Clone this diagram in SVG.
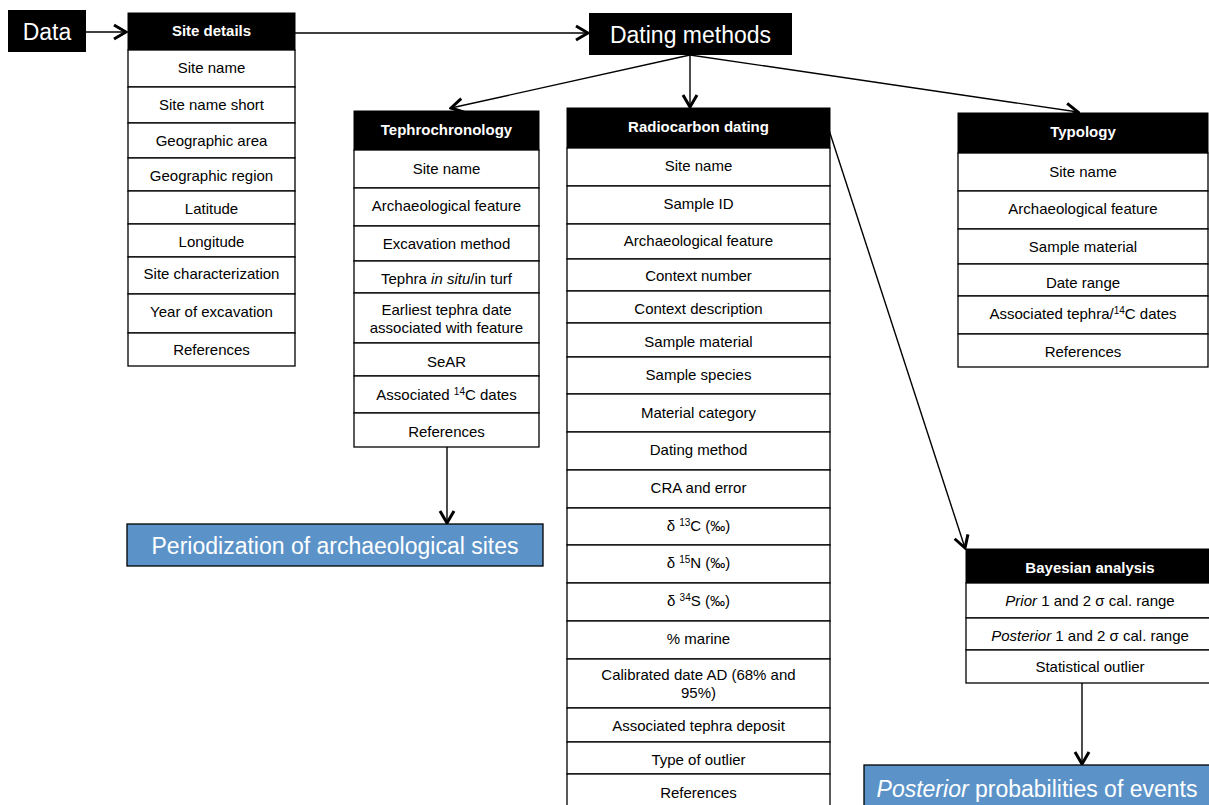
<svg xmlns="http://www.w3.org/2000/svg" width="1209" height="805" viewBox="0 0 1209 805">
<defs>
<marker id="arr" markerUnits="userSpaceOnUse" viewBox="0 0 16 18" refX="14" refY="9" markerWidth="16" markerHeight="18" orient="auto">
<path d="M2,2 L14,9 L2,16" fill="none" stroke="#000" stroke-width="3" stroke-linejoin="miter"/>
</marker>
<style>
.hd{fill:#000;stroke:#000;stroke-width:1}
.cell{fill:#fff;stroke:#000;stroke-width:1.3}
.ht{font-family:"Liberation Sans",Arial,sans-serif;font-size:15px;font-weight:bold;fill:#fff;text-anchor:middle}
.t{font-family:"Liberation Sans",Arial,sans-serif;font-size:15px;fill:#000;text-anchor:middle}
.big{font-family:"Liberation Sans",Arial,sans-serif;font-size:23px;fill:#fff;text-anchor:middle}
.blue{fill:#5b93c9;stroke:#000;stroke-width:1.3}
.sup{font-size:10px}
.con{stroke:#000;stroke-width:1.4;fill:none;marker-end:url(#arr)}
</style>
</defs>
<rect width="1209" height="805" fill="#fff"/>

<g id="connectors">
<line class="con" x1="86" y1="32" x2="126" y2="32"/>
<line class="con" x1="295" y1="33" x2="588" y2="33"/>
<line class="con" x1="690" y1="55" x2="451" y2="108"/>
<line class="con" x1="690" y1="55" x2="690" y2="107"/>
<line class="con" x1="690" y1="55" x2="1078" y2="112"/>
<line class="con" x1="828" y1="127" x2="965" y2="548"/>
<line class="con" x1="447" y1="447" x2="447" y2="523"/>
<line class="con" x1="1082" y1="683" x2="1082" y2="764"/>
</g>

<g id="data">
<rect x="8" y="10" width="78" height="42" fill="#000"/>
<text class="big" x="47" y="39.5">Data</text>
</g>

<g id="site-details">
<rect class="hd" x="128" y="13" width="167" height="37"/>
<text class="ht" x="211.5" y="36">Site details</text>
<rect class="cell" x="128" y="50" width="167" height="37"/>
<rect class="cell" x="128" y="87" width="167" height="36"/>
<rect class="cell" x="128" y="123" width="167" height="35"/>
<rect class="cell" x="128" y="158" width="167" height="33"/>
<rect class="cell" x="128" y="191" width="167" height="33"/>
<rect class="cell" x="128" y="224" width="167" height="33"/>
<rect class="cell" x="128" y="257" width="167" height="37"/>
<rect class="cell" x="128" y="294" width="167" height="39"/>
<rect class="cell" x="128" y="333" width="167" height="33"/>
<text class="t" x="211.5" y="72.5">Site name</text>
<text class="t" x="211.5" y="109.5">Site name short</text>
<text class="t" x="211.5" y="145.5">Geographic area</text>
<text class="t" x="211.5" y="180.5">Geographic region</text>
<text class="t" x="211.5" y="213.5">Latitude</text>
<text class="t" x="211.5" y="246.5">Longitude</text>
<text class="t" x="211.5" y="278.5">Site characterization</text>
<text class="t" x="211.5" y="316.5">Year of excavation</text>
<text class="t" x="211.5" y="354.5">References</text>
</g>

<g id="dating-methods">
<rect x="589" y="13" width="203" height="42" fill="#000"/>
<text class="big" x="690.5" y="42.5">Dating methods</text>
</g>

<g id="tephrochronology">
<rect class="hd" x="354" y="111" width="185" height="39"/>
<text class="ht" x="446.5" y="134.5">Tephrochronology</text>
<rect class="cell" x="354" y="150" width="185" height="38"/>
<rect class="cell" x="354" y="188" width="185" height="38"/>
<rect class="cell" x="354" y="226" width="185" height="35"/>
<rect class="cell" x="354" y="261" width="185" height="32"/>
<rect class="cell" x="354" y="293" width="185" height="50"/>
<rect class="cell" x="354" y="343" width="185" height="33"/>
<rect class="cell" x="354" y="376" width="185" height="37"/>
<rect class="cell" x="354" y="413" width="185" height="34"/>
<text class="t" x="446.5" y="173.5">Site name</text>
<text class="t" x="446.5" y="210.5">Archaeological feature</text>
<text class="t" x="446.5" y="248.5">Excavation method</text>
<text class="t" x="446.5" y="283.5">Tephra <tspan font-style="italic">in situ</tspan>/in turf</text>
<text class="t" x="446.5" y="315">Earliest tephra date</text>
<text class="t" x="446.5" y="332.5">associated with feature</text>
<text class="t" x="446.5" y="366.5">SeAR</text>
<text class="t" x="446.5" y="399.5">Associated <tspan class="sup" dy="-5">14</tspan><tspan dy="5">C dates</tspan></text>
<text class="t" x="446.5" y="436.5">References</text>
</g>

<g id="periodization">
<rect class="blue" x="127" y="524" width="416" height="42"/>
<text class="big" x="335" y="553.5">Periodization of archaeological sites</text>
</g>

<g id="radiocarbon">
<rect class="hd" x="567" y="108" width="263" height="40"/>
<text class="ht" x="698.5" y="131.5">Radiocarbon dating</text>
<rect class="cell" x="567" y="148" width="263" height="38"/>
<rect class="cell" x="567" y="186" width="263" height="38"/>
<rect class="cell" x="567" y="224" width="263" height="35"/>
<rect class="cell" x="567" y="259" width="263" height="32"/>
<rect class="cell" x="567" y="291" width="263" height="32"/>
<rect class="cell" x="567" y="323" width="263" height="34"/>
<rect class="cell" x="567" y="357" width="263" height="37"/>
<rect class="cell" x="567" y="394" width="263" height="38"/>
<rect class="cell" x="567" y="432" width="263" height="38"/>
<rect class="cell" x="567" y="470" width="263" height="38"/>
<rect class="cell" x="567" y="508" width="263" height="37"/>
<rect class="cell" x="567" y="545" width="263" height="38"/>
<rect class="cell" x="567" y="583" width="263" height="38"/>
<rect class="cell" x="567" y="621" width="263" height="38"/>
<rect class="cell" x="567" y="659" width="263" height="49"/>
<rect class="cell" x="567" y="708" width="263" height="34"/>
<rect class="cell" x="567" y="742" width="263" height="32"/>
<rect class="cell" x="567" y="774" width="263" height="40"/>
<text class="t" x="698.5" y="170.5">Site name</text>
<text class="t" x="698.5" y="208.5">Sample ID</text>
<text class="t" x="698.5" y="245.5">Archaeological feature</text>
<text class="t" x="698.5" y="280.5">Context number</text>
<text class="t" x="698.5" y="313.5">Context description</text>
<text class="t" x="698.5" y="346.5">Sample material</text>
<text class="t" x="698.5" y="379.5">Sample species</text>
<text class="t" x="698.5" y="417.5">Material category</text>
<text class="t" x="698.5" y="454.5">Dating method</text>
<text class="t" x="698.5" y="492.5">CRA and error</text>
<text class="t" x="698.5" y="530.5">δ <tspan class="sup" dy="-5">13</tspan><tspan dy="5">C (‰)</tspan></text>
<text class="t" x="698.5" y="567.5">δ <tspan class="sup" dy="-5">15</tspan><tspan dy="5">N (‰)</tspan></text>
<text class="t" x="698.5" y="605.5">δ <tspan class="sup" dy="-5">34</tspan><tspan dy="5">S (‰)</tspan></text>
<text class="t" x="698.5" y="643.5">% marine</text>
<text class="t" x="698.5" y="680">Calibrated date AD (68% and</text>
<text class="t" x="698.5" y="697.5">95%)</text>
<text class="t" x="698.5" y="730.5">Associated tephra deposit</text>
<text class="t" x="698.5" y="764.5">Type of outlier</text>
<text class="t" x="698.5" y="797.5">References</text>
</g>

<g id="typology">
<rect class="hd" x="958" y="113" width="250" height="40"/>
<text class="ht" x="1083" y="136.5">Typology</text>
<rect class="cell" x="958" y="153" width="250" height="38"/>
<rect class="cell" x="958" y="191" width="250" height="38"/>
<rect class="cell" x="958" y="229" width="250" height="35"/>
<rect class="cell" x="958" y="264" width="250" height="32"/>
<rect class="cell" x="958" y="296" width="250" height="38"/>
<rect class="cell" x="958" y="334" width="250" height="33"/>
<text class="t" x="1083" y="176.5">Site name</text>
<text class="t" x="1083" y="213.5">Archaeological feature</text>
<text class="t" x="1083" y="251.5">Sample material</text>
<text class="t" x="1083" y="287.5">Date range</text>
<text class="t" x="1083" y="318.5">Associated tephra/<tspan class="sup" dy="-5">14</tspan><tspan dy="5">C dates</tspan></text>
<text class="t" x="1083" y="356.5">References</text>
</g>

<g id="bayesian">
<rect class="hd" x="966" y="549" width="250" height="34"/>
<text class="ht" x="1090" y="572.5">Bayesian analysis</text>
<rect class="cell" x="966" y="583" width="250" height="35"/>
<rect class="cell" x="966" y="618" width="250" height="32"/>
<rect class="cell" x="966" y="650" width="250" height="33"/>
<text class="t" x="1090" y="605.5"><tspan font-style="italic">Prior</tspan> 1 and 2 σ cal. range</text>
<text class="t" x="1090" y="640.5"><tspan font-style="italic">Posterior</tspan> 1 and 2 σ cal. range</text>
<text class="t" x="1090" y="671.5">Statistical outlier</text>
</g>

<g id="posterior">
<rect class="blue" x="864" y="765" width="360" height="50"/>
<text class="big" x="1037" y="796.5"><tspan font-style="italic">Posterior</tspan> probabilities of events</text>
</g>
</svg>
